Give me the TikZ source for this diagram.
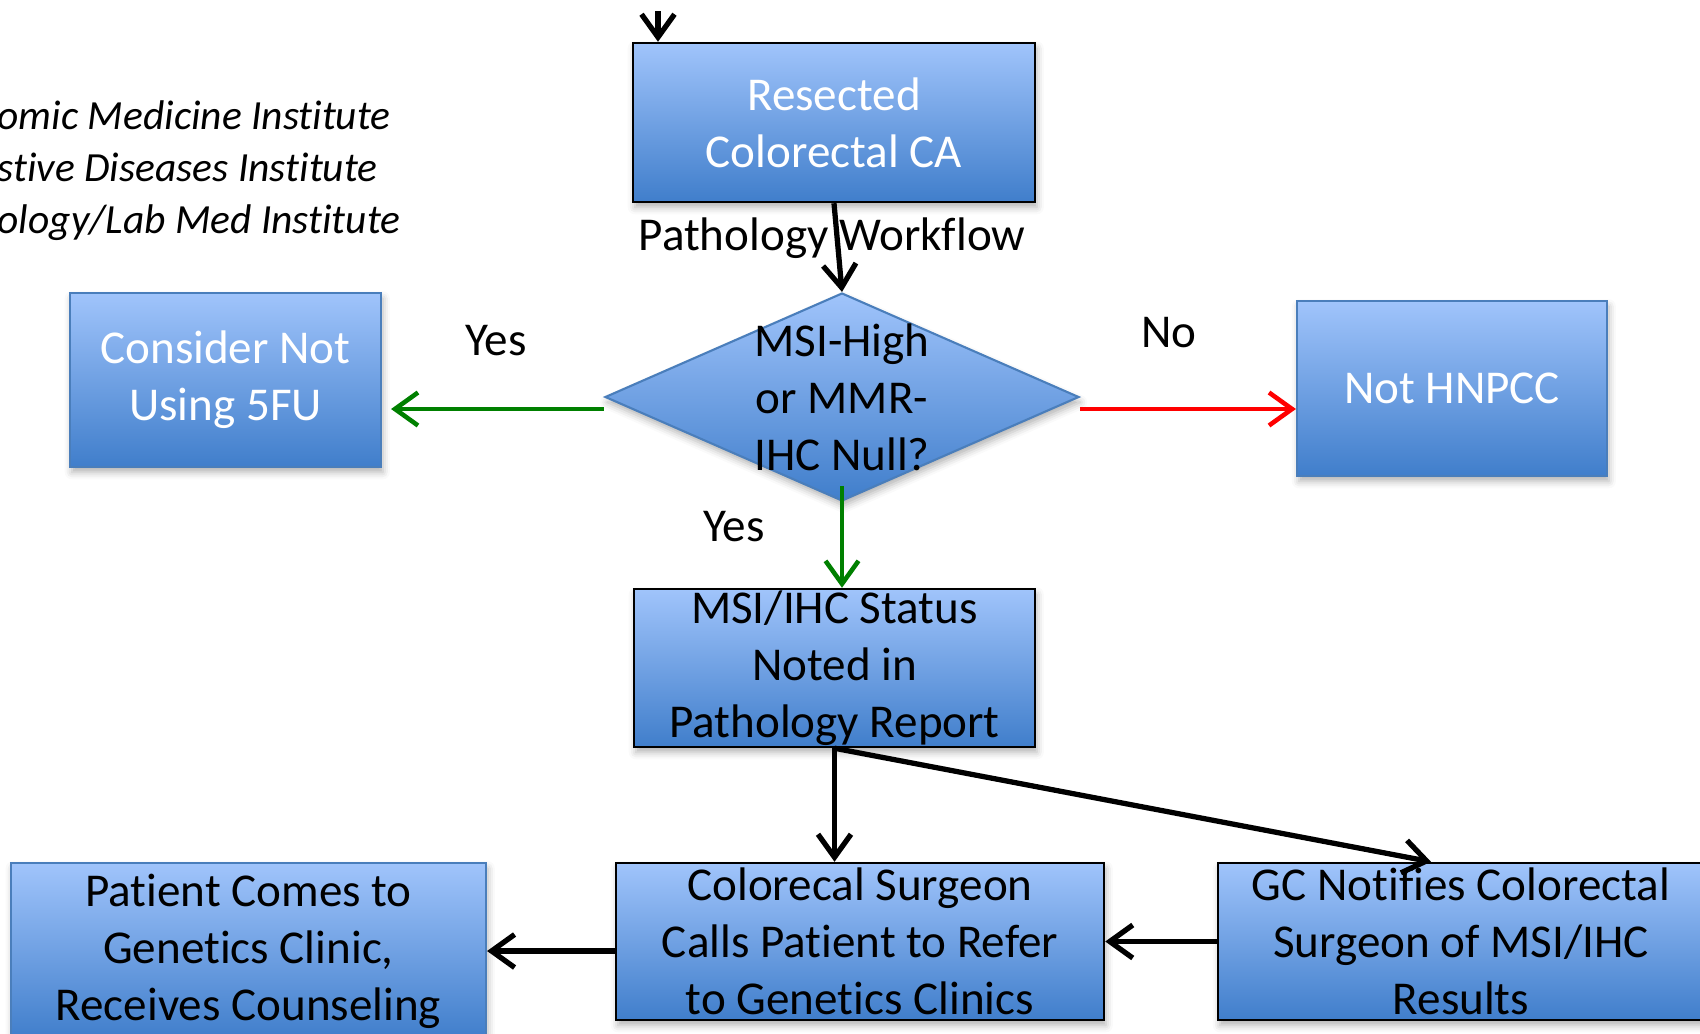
\documentclass[tikz,border=0pt]{standalone}
\usepackage{fontspec}
\setmainfont{Carlito}[RawFeature={-liga;-clig;-dlig;-calt}]
\usepackage{xcolor}
\definecolor{box-top}{RGB}{160,196,251}
\definecolor{box-bottom}{RGB}{64,126,203}
\definecolor{box-edge}{RGB}{74,126,187}
\definecolor{yes-green}{RGB}{0,128,0}
\definecolor{no-red}{RGB}{255,0,0}
\usepackage{tikz}
\usetikzlibrary{shadows.blur,arrows.meta,shapes.geometric}

\begin{document}
\begin{tikzpicture}[
    base box/.style={
        rectangle,
        top color=box-top,
        bottom color=box-bottom,
        inner sep=0pt,
        align=center,
        font=\fontsize{13.4}{16.2}\selectfont,
        blur shadow={shadow xshift=0.5pt, shadow yshift=-1.5pt, shadow blur radius=2pt, shadow opacity=30}
    },
    dark box/.style={base box, draw=black, line width=0.7pt, text=black},
    light box/.style={base box, draw=box-edge, line width=0.6pt, text=white},
    decision/.style={
        diamond,
        draw=box-edge,
        line width=0.6pt,
        top color=box-top,
        bottom color=box-bottom,
        inner sep=0pt,
        minimum width=4.74cm,
        minimum height=2.08cm,
        blur shadow={shadow xshift=0.5pt, shadow yshift=-1.5pt, shadow blur radius=2pt, shadow opacity=30}
    },
    plain text/.style={font=\fontsize{13.4}{16.2}\selectfont, align=center, inner sep=0pt},
    institute/.style={font=\fontsize{11.8}{14.8}\selectfont\itshape, align=left, inner sep=0pt},
    arrow/.style={-{Straight Barb[length=2.3mm, width=3.3mm]}, line width=1.5pt, black},
    yes arrow/.style={arrow, line width=1.3pt, yes-green},
    no arrow/.style={arrow, line width=1.3pt, no-red}
]
\useasboundingbox (0,0) rectangle (17,-10.33);
\clip (0,0) rectangle (17,-10.33);

% Institutes
\node[institute, anchor=west] (inst) at (-0.03,-1.71) {omic Medicine Institute\\stive Diseases Institute\\ology/Lab Med Institute};

% Top of the flow
\node[dark box, text=white, minimum width=4.02cm, minimum height=1.59cm] (resected) at (8.34,-1.225) {Resected\\Colorectal CA};
\node[plain text] (workflow) at (8.32,-2.38) {Pathology Workflow};

% Decision
\node[decision] (dec) at (8.42,-3.97) {};
\node[plain text] (dectext) at (dec) {MSI-High\\or MMR-\\IHC Null?};

% Outcomes
\node[light box, minimum width=3.11cm, minimum height=1.74cm] (consider) at (2.255,-3.80) {Consider Not\\Using 5FU};
\node[light box, minimum width=3.10cm, minimum height=1.75cm] (nothnpcc) at (14.52,-3.885) {Not HNPCC};
\node[dark box, minimum width=4.01cm, minimum height=1.58cm] (status) at (8.345,-6.68) {MSI/IHC Status\\Noted in\\Pathology Report};

% Bottom row
\node[dark box, minimum width=4.88cm, minimum height=1.57cm] (surgeon) at (8.60,-9.415) {Colorecal Surgeon\\Calls Patient to Refer\\to Genetics Clinics};
\node[dark box, minimum width=4.86cm, minimum height=1.57cm] (notify) at (14.61,-9.415) {GC Notifies Colorectal\\Surgeon of MSI/IHC\\Results};
\node[light box, text=black, minimum width=4.75cm, minimum height=1.76cm] (patient) at (2.485,-9.51) {Patient Comes to\\Genetics Clinic,\\Receives Counseling};

% Answers
\node[plain text] (yesleft) at (4.96,-3.41) {Yes};
\node[plain text] (no) at (11.69,-3.33) {No};
\node[plain text] (yesdown) at (7.34,-5.27) {Yes};

% Arrows
\coordinate (entry) at (6.58,-0.11);
\draw[arrow] (entry) -- (entry |- resected.north);
\draw[arrow] (resected.south) -- (dec.north);
\draw[yes arrow, shorten >=0.9mm] ([yshift=-1.2mm]dec.west) -- ([yshift=-1.2mm]dec.west -| consider.east);
\draw[no arrow] ([yshift=-1.2mm]dec.east) -- ([yshift=-1.2mm]dec.east -| nothnpcc.west);
\draw[yes arrow] ([yshift=1.6mm]dec.south) -- (dec.south |- status.north);
\draw[arrow] (status.south) -- (status.south |- surgeon.north);
\draw[arrow] (status.south) -- ([xshift=-3mm]notify.north);
\draw[arrow] (notify.west) -- (surgeon.east);
\draw[arrow] (surgeon.west |- patient.east) -- (patient.east);

\end{tikzpicture}
\end{document}
